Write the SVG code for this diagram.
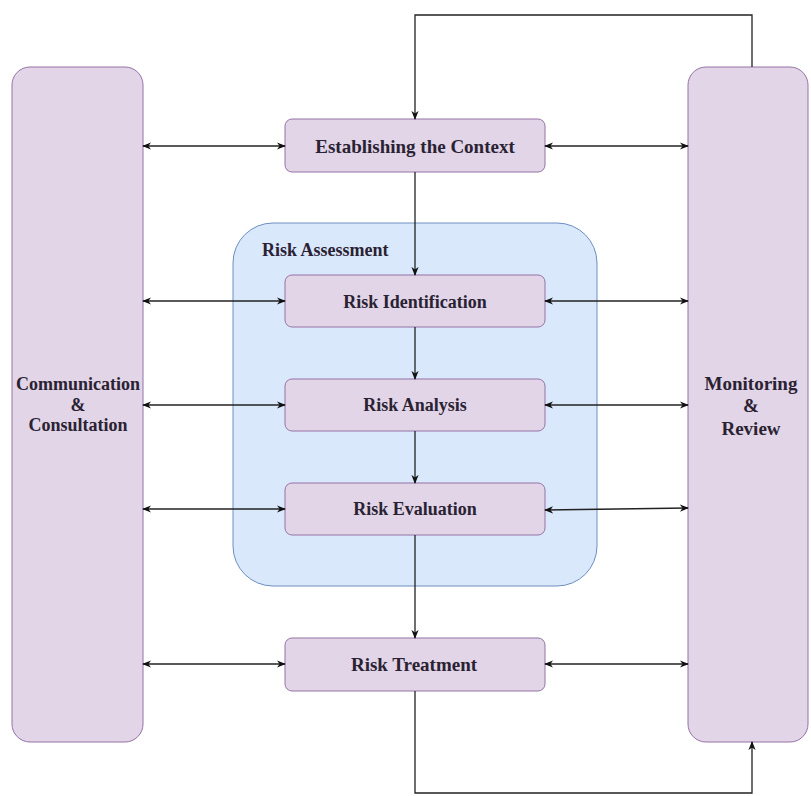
<svg xmlns="http://www.w3.org/2000/svg" width="811" height="796" viewBox="0 0 811 796">
<style>
.node{fill:#e1d5e7;stroke:#9673a6;stroke-width:1}
.ra{fill:#dae8fc;stroke:#6c8ebf;stroke-width:1}
.t{font-family:'Liberation Serif','Times New Roman',serif;font-weight:bold;font-size:18px;fill:#2a2233;text-anchor:middle}
.b{font-size:19px}
.c{fill:none;stroke:#222;stroke-width:1.3}
</style>
<defs>
<marker id="ah" viewBox="0 0 10 10" refX="9" refY="5" markerWidth="9" markerHeight="9" markerUnits="userSpaceOnUse" orient="auto-start-reverse">
<path d="M0,1 L10,5 L0,9 L3,5 Z" fill="#111"/>
</marker>
</defs>
<rect width="811" height="796" fill="#fff"/>
<g id="risk-assessment">
<rect class="ra" x="233" y="223" width="364" height="363" rx="40"/>
<text class="t" x="262" y="256" style="text-anchor:start">Risk Assessment</text>
</g>
<g id="communication">
<rect class="node" x="12" y="67" width="131" height="675" rx="18"/>
<text class="t" x="78" y="390">Communication</text>
<text class="t" x="78" y="411">&amp;</text>
<text class="t" x="78" y="431">Consultation</text>
</g>
<g id="monitoring">
<rect class="node" x="688" y="67" width="120" height="675" rx="18"/>
<text class="t b" x="751" y="390">Monitoring</text>
<text class="t b" x="751" y="412">&amp;</text>
<text class="t b" x="751" y="435">Review</text>
</g>
<g id="context">
<rect class="node" x="285" y="119" width="260" height="53" rx="7"/>
<text class="t b" x="415" y="153">Establishing the Context</text>
</g>
<g id="identification">
<rect class="node" x="285" y="275" width="260" height="52" rx="7"/>
<text class="t" x="415" y="308">Risk Identification</text>
</g>
<g id="analysis">
<rect class="node" x="285" y="379" width="260" height="52" rx="7"/>
<text class="t" x="415" y="411">Risk Analysis</text>
</g>
<g id="evaluation">
<rect class="node" x="285" y="483" width="260" height="52" rx="7"/>
<text class="t" x="415" y="515">Risk Evaluation</text>
</g>
<g id="treatment">
<rect class="node" x="285" y="638" width="260" height="53" rx="7"/>
<text class="t b" x="414" y="671">Risk Treatment</text>
</g>
<g id="connectors">
<line class="c" x1="143" y1="146" x2="285" y2="146" marker-start="url(#ah)" marker-end="url(#ah)"/>
<line class="c" x1="545" y1="146" x2="688" y2="146" marker-start="url(#ah)" marker-end="url(#ah)"/>
<line class="c" x1="143" y1="301" x2="285" y2="301" marker-start="url(#ah)" marker-end="url(#ah)"/>
<line class="c" x1="545" y1="301" x2="688" y2="301" marker-start="url(#ah)" marker-end="url(#ah)"/>
<line class="c" x1="143" y1="405" x2="285" y2="405" marker-start="url(#ah)" marker-end="url(#ah)"/>
<line class="c" x1="545" y1="405" x2="688" y2="405" marker-start="url(#ah)" marker-end="url(#ah)"/>
<line class="c" x1="143" y1="509" x2="285" y2="509" marker-start="url(#ah)" marker-end="url(#ah)"/>
<line class="c" x1="545" y1="510" x2="688" y2="508" marker-start="url(#ah)" marker-end="url(#ah)"/>
<line class="c" x1="143" y1="664" x2="285" y2="664" marker-start="url(#ah)" marker-end="url(#ah)"/>
<line class="c" x1="545" y1="664" x2="688" y2="664" marker-start="url(#ah)" marker-end="url(#ah)"/>
<line class="c" x1="415" y1="172" x2="415" y2="275" marker-end="url(#ah)"/>
<line class="c" x1="415" y1="327" x2="415" y2="379" marker-end="url(#ah)"/>
<line class="c" x1="415" y1="431" x2="415" y2="483" marker-end="url(#ah)"/>
<line class="c" x1="415" y1="535" x2="415" y2="638" marker-end="url(#ah)"/>
<path class="c" d="M752,67 V15 H415 V119" marker-end="url(#ah)"/>
<path class="c" d="M415,691 V793 H752 V742" marker-end="url(#ah)"/>
</g>
</svg>
